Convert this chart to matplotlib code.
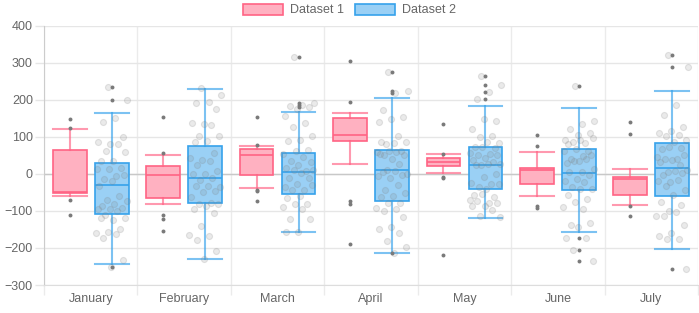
import numpy as np
import matplotlib
matplotlib.use("Agg")
import matplotlib.pyplot as plt
from matplotlib.patches import Patch

plt.rcParams["font.family"] = ["Liberation Sans", "DejaVu Sans"]

months = ["January", "February", "March", "April", "May", "June", "July"]

# Dataset 1 box stats
d1_whislo = [-59, -81, -39, 28, 4, -60, -85]
d1_q1 = [-52, -66, -2, 89, 22, -27, -57]
d1_med = [-49, -4, 50, 105, 32, 10, -14]
d1_q3 = [65, 21, 68, 151, 43, 15, -9]
d1_whishi = [121, 50, 76, 166, 54, 59, 13]
d1_outliers = [[148, 123, -70, -110], [155, 58, -110, -121, -155],
               [153, 78, -44, -47, -72], [305, 194, -72, -80, -188],
               [134, 54, -8, -12, -218], [106, 77, -87, -91],
               [140, 109, -86, -114]]

# Dataset 2 box stats
d2_whislo = [-244, -231, -158, -214, -118, -156, -202]
d2_q1 = [-108, -78, -54, -73, -41, -44, -59]
d2_med = [-30, -11, 5, 12, 24, 2, 16]
d2_q3 = [30, 77, 57, 65, 73, 68, 83]
d2_whishi = [166, 231, 167, 206, 185, 179, 225]
d2_outliers = [[235, 201, -251], [], [316, 191, 186, 180],
               [277, 224, 218, -214], [264, 241, 222, 202],
               [239, -174, -206, -236], [322, 290, -256]]

# Dataset 2 individual items
d2_items = [
    [235, 201, 152, 140, 100, 81, 86, 81, 63, 59, 36, 36, 16, 14, 13, -6,
     -13, -4, -20, -32, -59, -70, -72, -80, -87, -92, -95, -95, -101, -112,
     -119, -123, -119, -148, -157, -159, -163, -173, -232, -251],
    [232, 214, 195, 192, 177, 136, 138, 132, 104, 104, 90, 86, 57, 37, 43,
     36, 23, 7, 1, 1, -11, -15, -36, -33, -32, -45, -49, -61, -78, -80, -80,
     -87, -94, -105, -141, -166, -168, -178, -209, -231],
    [316, 192, 186, 183, 180, 176, 156, 138, 128, 102, 93, 88, 64, 61, 54, 45,
     36, 33, 25, 16, 7, 10, 12, 3, -11, -12, -26, -36, -44, -44, -31, -60,
     -65, -80, -80, -89, -94, -122, -122, -158, -158],
    [277, 224, 218, 173, 154, 149, 141, 103, 81, 86, 84, 86, 63, 61, 59, 59,
     50, 50, 41, 53, 27, 12, 0, 9, 6, -4, -11, -6, -29, -42, -51, -59, -62,
     -78, -78, -92, -94, -101, -117, -143, -148, -160, -182, -198, -214],
    [264, 241, 222, 202, 142, 148, 122, 103, 101, 83, 86, 74, 70, 72, 57, 55,
     52, 50, 43, 39, 33, 23, 26, 27, 25, 0, -8, -23, -26, -36, -27, -41, -58,
     -63, -54, -69, -78, -74, -79, -87, -87, -96, -114, -117],
    [239, 142, 136, 121, 110, 105, 91, 85, 86, 97, 93, 81, 63, 68, 63, 49,
     41, 50, 35, 30, 41, 34, 14, 5, 5, -2, -14, -18, -22, -35, -41, -40, -58,
     -68, -76, -90, -95, -138, -133, -143, -174, -174, -206, -236],
    [322, 290, 186, 159, 127, 117, 110, 105, 103, 92, 86, 68, 69, 73, 45, 41,
     41, 50, 37, 32, 25, 6, 10, 7, -3, 3, -22, -20, -17, -32, -44, -58, -76,
     -84, -99, -113, -102, -114, -137, -160, -168, -176, -177, -256],
]

pink_edge = "#ff6384"
pink_fill = "#ffb1c1"
blue_edge = "#36a2eb"
blue_fill = "#9ad0f5"


def make_stats(lo, q1, med, q3, hi):
    return [dict(whislo=a, q1=b, med=c, q3=d, whishi=e, fliers=[])
            for a, b, c, d, e in zip(lo, q1, med, q3, hi)]


def draw_boxes(ax, stats, pos, edge, fill, width):
    ax.bxp(stats, positions=pos, widths=width, capwidths=width,
           patch_artist=True, showfliers=False,
           boxprops=dict(facecolor=fill, edgecolor=edge, linewidth=1.2),
           medianprops=dict(color=edge, linewidth=1.2),
           whiskerprops=dict(color=edge, linewidth=1.5, alpha=0.65),
           capprops=dict(color=edge, linewidth=1.5, alpha=0.65),
           manage_ticks=False, zorder=3)


fig = plt.figure(figsize=(6.99, 3.13), dpi=100)
ax = fig.add_axes([44 / 699, 1 - 285 / 313, 654 / 699, 259 / 313])

x = np.arange(len(months))
off = 0.225
bw = 0.36

draw_boxes(ax, make_stats(d1_whislo, d1_q1, d1_med, d1_q3, d1_whishi),
           x - off, pink_edge, pink_fill, bw)
draw_boxes(ax, make_stats(d2_whislo, d2_q1, d2_med, d2_q3, d2_whishi),
           x + off, blue_edge, blue_fill, bw)

# jittered items for dataset 2
for i, vals in enumerate(d2_items):
    n = len(vals)
    jit = ((np.arange(n) * 0.618034 + 0.37) % 1 - 0.5) * 0.34
    ax.scatter(x[i] + off + jit, vals, s=19, facecolor=(0.5, 0.5, 0.5, 0.16),
               edgecolor=(0.5, 0.5, 0.5, 0.2), linewidth=0.8, zorder=4)

# outliers
for i in range(len(months)):
    ax.scatter([x[i] - off] * len(d1_outliers[i]), d1_outliers[i], s=8,
               color="#7a7a7a", linewidth=0, zorder=5)
    ax.scatter([x[i] + off] * len(d2_outliers[i]), d2_outliers[i], s=8,
               color="#7a7a7a", linewidth=0, zorder=5)

ax.set_xlim(-0.5, len(months) - 0.5)
ax.set_ylim(-300, 400)
ax.set_yticks(np.arange(-300, 401, 100))
ax.set_xticks(x)
ax.set_xticklabels(months)
ax.set_xticks(np.arange(-0.5, len(months)), minor=True)

ax.grid(axis="y", color="#e6e6e6", linewidth=1)
ax.grid(axis="x", which="minor", color="#ebebeb", linewidth=1)
ax.grid(axis="x", which="major", visible=False)
ax.axhline(0, color="#c8c8c8", linewidth=1, zorder=1)
ax.set_axisbelow(True)

ax.tick_params(axis="y", length=6.5, width=1, color="#e6e6e6", pad=1.5,
               labelsize=9, labelcolor="#666666")
ax.tick_params(axis="x", which="major", length=0, pad=6, labelsize=9,
               labelcolor="#666666")
ax.tick_params(axis="x", which="minor", length=7, width=1, color="#ebebeb")

for s in ["top", "right"]:
    ax.spines[s].set_visible(False)
ax.spines["left"].set_color("#cccccc")
ax.spines["bottom"].set_color("#dddddd")

handles = [Patch(facecolor=pink_fill, edgecolor=pink_edge, linewidth=1.2),
           Patch(facecolor=blue_fill, edgecolor=blue_edge, linewidth=1.2)]
leg = fig.legend(handles, ["Dataset 1", "Dataset 2"], loc="center",
                 bbox_to_anchor=(0.5, 1 - 10 / 313), ncol=2, frameon=False,
                 fontsize=9, handlelength=3.2, handleheight=0.96,
                 handletextpad=0.6, columnspacing=0.8, borderpad=0)
for t in leg.get_texts():
    t.set_color("#666666")

fig.savefig("out.png", dpi=100)
